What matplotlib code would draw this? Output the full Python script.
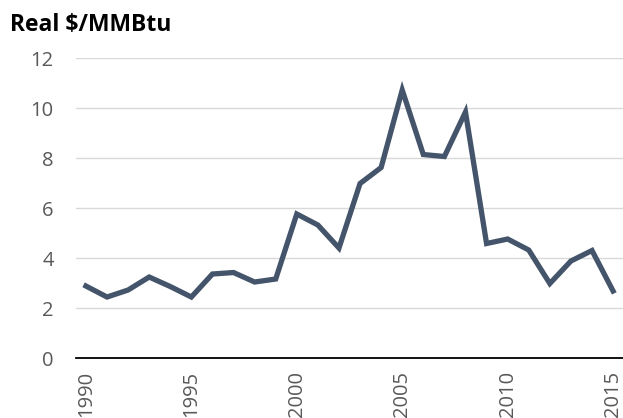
import matplotlib
matplotlib.use("Agg")
import matplotlib.pyplot as plt

years = list(range(1990, 2016))
prices = [2.88, 2.44, 2.72, 3.24, 2.86, 2.44, 3.36, 3.42, 3.04, 3.16,
          5.76, 5.32, 4.40, 6.98, 7.62, 10.72, 8.14, 8.06, 9.84, 4.58,
          4.76, 4.32, 2.98, 3.88, 4.30, 2.68]
yticks = [0, 2, 4, 6, 8, 10, 12]
xticks = [1990, 1995, 2000, 2005, 2010, 2015]

plt.rcParams['font.family'] = ['Open Sans', 'DejaVu Sans']

fig = plt.figure(figsize=(6.23, 4.18), dpi=100)
ax = fig.add_axes([0.122, 0.1435, 0.878, 0.7177])

ax.plot(years, prices, color='#44546A', linewidth=3.8, solid_joinstyle='miter', zorder=3)

ax.set_xlim(1989.53, 2015.47)
ax.set_ylim(0, 12)
ax.set_yticks(yticks)
ax.set_xticks(xticks)
ax.set_xticklabels([str(x) for x in xticks], rotation=90, va='top', ha='center')
ax.grid(axis='y', color='#D9D9D9', linewidth=1.0)
ax.set_axisbelow(True)
for s in ['top', 'right', 'left']:
    ax.spines[s].set_visible(False)
ax.spines['bottom'].set_color('black')
ax.spines['bottom'].set_linewidth(1.3)
ax.spines['bottom'].set_zorder(4)
ax.tick_params(axis='both', length=0, labelsize=14.5, labelcolor='#595959')
ax.tick_params(axis='y', pad=16)
ax.tick_params(axis='x', pad=9)

fig.text(0.016, 0.925, 'Real $/MMBtu', fontsize=16.5, fontweight='bold', color='black', ha='left', va='baseline')

fig.savefig('out.png', dpi=100)
